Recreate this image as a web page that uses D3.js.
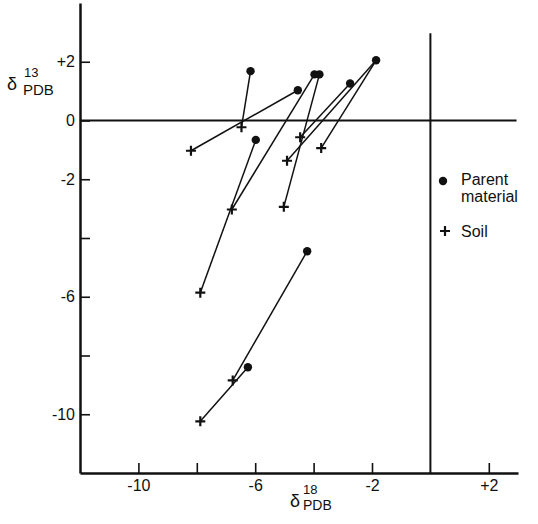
<!DOCTYPE html>
<html>
<head>
<meta charset="utf-8">
<script src="https://cdn.jsdelivr.net/npm/d3@7/dist/d3.min.js"></script>
<style>
  body { margin: 0; background: #fff; }
  svg { display: block; }
  text { font-family: "Liberation Sans", Arial, sans-serif; fill: #111; }
</style>
</head>
<body>
<script>
// parent material (dots) and soil (crosses), d18O vs d13C
const parent = [
  [-6.16, 1.68], [-4.54, 1.03], [-5.98, -0.66], [-3.97, 1.57], [-3.80, 1.57],
  [-2.75, 1.26], [-1.86, 2.05], [-4.22, -4.45], [-6.25, -8.40]
]
const soil = [
  [-6.47, -0.23], [-8.20, -1.03], [-7.88, -5.86], [-6.80, -3.03], [-5.02, -2.94],
  [-4.46, -0.57], [-4.91, -1.37], [-3.74, -0.94], [-6.77, -8.85], [-7.88, -10.24]
]
// [parent index, soil index]
const links = [
  [0, 0], [1, 1], [2, 2], [3, 3], [4, 4], [5, 5], [6, 6], [6, 7], [7, 8], [8, 9]
]
const xTicks = [-10, -8, -6, -4, -2, 2]
const xLabels = [-10, -6, -2, 2]
const yTicks = [2, 0, -2, -4, -6, -8, -10]
const yLabels = [2, 0, -2, -6, -10]

const W = 538, H = 524
const svg = d3.select("body").append("svg")
  .attr("width", W)
  .attr("height", H)

const x = d3.scaleLinear().domain([-12, 3]).range([80, 518])
const y = d3.scaleLinear().domain([-12, 4]).range([473, 3])

const fmt = d => d > 0 ? "+" + d : String(d)

// axes with inward ticks
const gx = svg.append("g")
  .attr("transform", `translate(0,${y(-12)})`)
  .call(d3.axisBottom(x)
    .tickValues(xTicks)
    .tickSizeInner(-10)
    .tickSizeOuter(0)
    .tickPadding(7)
    .tickFormat(d => xLabels.includes(d) ? fmt(d) : ""))
const gy = svg.append("g")
  .attr("transform", `translate(${x(-12)},0)`)
  .call(d3.axisLeft(y)
    .tickValues(yTicks)
    .tickSizeInner(-10)
    .tickSizeOuter(0)
    .tickPadding(5)
    .tickFormat(d => yLabels.includes(d) ? fmt(d) : ""))

for (const g of [gx, gy]) {
  g.select(".domain").attr("stroke", "#111").attr("stroke-width", 2.5)
  g.selectAll(".tick line").attr("stroke", "#111").attr("stroke-width", 1.6)
  g.selectAll(".tick text").style("font-size", "16px").attr("fill", "#111")
}

// zero lines
svg.append("line")
  .attr("x1", x(-12)).attr("x2", x(2.95))
  .attr("y1", y(0)).attr("y2", y(0))
  .attr("stroke", "#111").attr("stroke-width", 2)
svg.append("line")
  .attr("x1", x(0)).attr("x2", x(0))
  .attr("y1", y(2.97)).attr("y2", y(-12))
  .attr("stroke", "#111").attr("stroke-width", 2)

// tie lines
svg.append("g").selectAll("line")
  .data(links)
  .join("line")
  .attr("x1", d => x(parent[d[0]][0]))
  .attr("y1", d => y(parent[d[0]][1]))
  .attr("x2", d => x(soil[d[1]][0]))
  .attr("y2", d => y(soil[d[1]][1]))
  .attr("stroke", "#111")
  .attr("stroke-width", 1.5)

const cross = "M-5,0H5M0,-5V5"

svg.append("g").selectAll("circle")
  .data(parent)
  .join("circle")
  .attr("cx", d => x(d[0]))
  .attr("cy", d => y(d[1]))
  .attr("r", 4.2)
  .attr("fill", "#111")

svg.append("g").selectAll("path")
  .data(soil)
  .join("path")
  .attr("d", cross)
  .attr("transform", d => `translate(${x(d[0])},${y(d[1])})`)
  .attr("stroke", "#111")
  .attr("stroke-width", 2.2)

// legend
const leg = svg.append("g")
leg.append("circle").attr("cx", 443).attr("cy", 181).attr("r", 4.2).attr("fill", "#111")
leg.append("text").attr("x", 461).attr("y", 185).style("font-size", "16px").text("Parent")
leg.append("text").attr("x", 461).attr("y", 202).style("font-size", "16px").text("material")
leg.append("path").attr("d", cross).attr("transform", "translate(445,231)")
  .attr("stroke", "#111").attr("stroke-width", 2.2)
leg.append("text").attr("x", 461).attr("y", 237).style("font-size", "16px").text("Soil")

// axis titles
const yt = svg.append("g")
yt.append("text").attr("x", 7).attr("y", 90).style("font-size", "18px").text("δ")
yt.append("text").attr("x", 24).attr("y", 77).style("font-size", "13px").text("13")
yt.append("text").attr("x", 23).attr("y", 95).style("font-size", "15px").text("PDB")

const xt = svg.append("g")
xt.append("text").attr("x", 290).attr("y", 507).style("font-size", "18px").text("δ")
xt.append("text").attr("x", 303).attr("y", 494).style("font-size", "13px").text("18")
xt.append("text").attr("x", 303).attr("y", 510).style("font-size", "14px").text("PDB")
</script>
</body>
</html>
